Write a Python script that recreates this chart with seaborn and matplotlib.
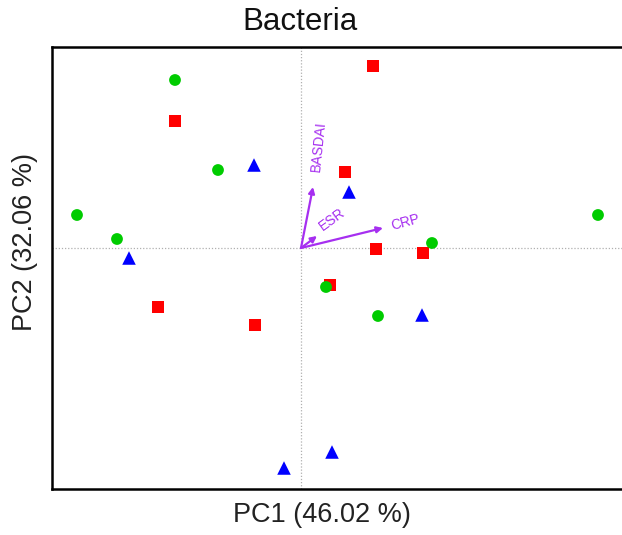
import matplotlib
matplotlib.use("Agg")
import matplotlib.pyplot as plt
import seaborn as sns
import pandas as pd

# PCA sample scores per group
circle_pc1 = [-1.26, -0.83, -2.24, -1.84, 1.31, 2.97, 0.25, 0.77]
circle_pc2 = [1.68, 0.78, 0.33, 0.09, 0.05, 0.33, -0.39, -0.68]
square_pc1 = [0.72, -1.26, 0.44, 0.75, 1.22, 0.29, -1.43, -0.46]
square_pc2 = [1.82, 1.27, 0.76, -0.01, -0.05, -0.37, -0.59, -0.77]
triangle_pc1 = [-0.47, 0.48, -1.72, 1.21, -0.17, 0.31]
triangle_pc2 = [0.83, 0.56, -0.10, -0.67, -2.20, -2.04]

# clinical variable loadings (environmental fit vectors)
var_names = ["BASDAI", "ESR", "CRP"]
var_pc1 = [0.12, 0.16, 0.82]
var_pc2 = [0.61, 0.12, 0.20]

title = "Bacteria"
x_label = "PC1 (46.02 %)"
y_label = "PC2 (32.06 %)"

# squares first, circles last so circles sit on top where they overlap
df = pd.DataFrame({
    "PC1": square_pc1 + triangle_pc1 + circle_pc1,
    "PC2": square_pc2 + triangle_pc2 + circle_pc2,
    "group": ["G2"] * len(square_pc1) + ["G3"] * len(triangle_pc1) + ["G1"] * len(circle_pc1),
})

sns.set_theme(style="white")
plt.rcParams["font.family"] = ["Liberation Sans", "DejaVu Sans"]

W, H = 622, 535
fig = plt.figure(figsize=(W / 100, H / 100), dpi=100)
# the panel runs past the right edge of the canvas
left_px, right_px, top_px, bottom_px = 52, 645, 47, 489
ax = fig.add_axes([left_px / W, 1 - bottom_px / H, (right_px - left_px) / W, (bottom_px - top_px) / H])

# reference lines through the origin
ax.axvline(0, color="#b0b0b0", lw=0.9, ls=(0, (1, 1.5)), zorder=1)
ax.axhline(0, color="#b0b0b0", lw=0.9, ls=(0, (1, 1.5)), zorder=1)

sns.scatterplot(
    data=df, x="PC1", y="PC2", hue="group", style="group", size="group",
    palette={"G1": "#00cc00", "G2": "#ff0000", "G3": "#0000ff"},
    markers={"G1": "o", "G2": "s", "G3": "^"},
    sizes={"G1": 72, "G2": 68, "G3": 95},
    linewidth=0, legend=False, ax=ax, zorder=3,
)

purple = "#a62ff0"
label_pos = {"BASDAI": (0.18, 1.02), "ESR": (0.31, 0.29), "CRP": (1.04, 0.26)}
label_rot = {"BASDAI": 84, "ESR": 36, "CRP": 15}
for name, vx, vy in zip(var_names, var_pc1, var_pc2):
    ax.annotate("", xy=(vx, vy), xytext=(0, 0),
                arrowprops=dict(arrowstyle="-|>", color=purple, lw=1.6,
                                mutation_scale=9, shrinkA=0, shrinkB=0),
                zorder=4)
    lx, ly = label_pos[name]
    ax.text(lx, ly, name, color=purple, fontsize=10, rotation=label_rot[name],
            ha="center", va="center", rotation_mode="anchor", zorder=4)

ax.set_xlim((left_px - 301) / 100, (right_px - 301) / 100)
ax.set_ylim((248 - bottom_px) / 100, (248 - top_px) / 100)
ax.set_xticks([])
ax.set_yticks([])
ax.set_xlabel("")
ax.set_ylabel("")
for side in ["left", "top", "bottom", "right"]:
    ax.spines[side].set_color("black")
    ax.spines[side].set_linewidth(1.8)

fig.text(300 / W, 1 - 22 / H, title, fontsize=22.5, ha="center", va="center", color="#111111")
fig.text(322 / W, 1 - 515 / H, x_label, fontsize=19.5, ha="center", va="center", color="#222222")
fig.text(25 / W, 1 - 242 / H, y_label, fontsize=19.5, ha="center", va="center", rotation=90, color="#222222")

fig.savefig("out.png", dpi=100)
